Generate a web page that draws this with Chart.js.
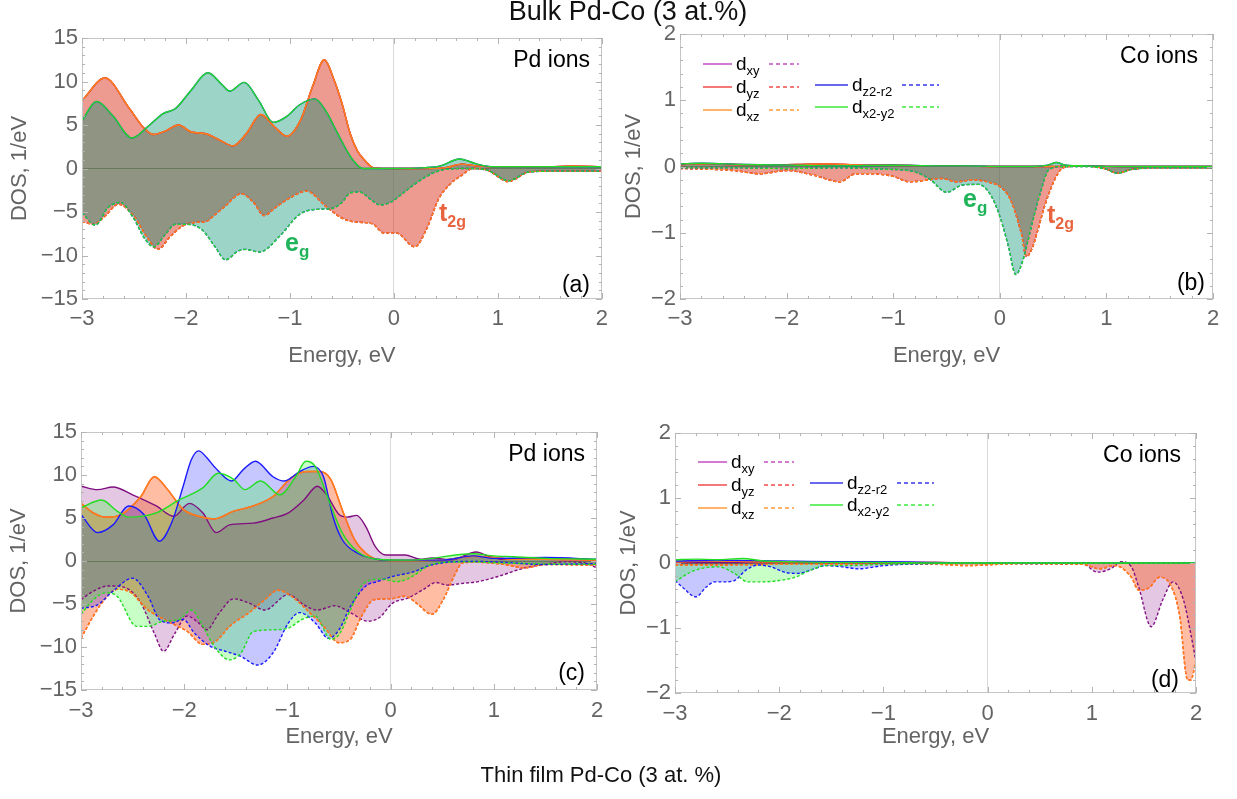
<!DOCTYPE html>
<html>
<head>
<meta charset="utf-8">
<script src="https://cdn.jsdelivr.net/npm/chart.js@4.4.1/dist/chart.umd.min.js"></script>
<style>
  body { margin: 0; background: #fff; font-family: "Liberation Sans", Arial, sans-serif; }
  #lienzo { position: relative; width: 1237px; height: 799px; overflow: hidden; background: #fff; }
  canvas { position: absolute; }
  .txt { position: absolute; white-space: nowrap; line-height: 1; }
  .muestra { position: absolute; height: 2px; }
</style>
</head>
<body>
<div id="lienzo">
  <canvas id="grafA" width="615" height="380" style="left:0px;top:0px"></canvas>
  <canvas id="grafB" width="622" height="380" style="left:615px;top:0px"></canvas>
  <canvas id="grafC" width="615" height="380" style="left:0px;top:400px"></canvas>
  <canvas id="grafD" width="622" height="380" style="left:615px;top:400px"></canvas>
</div>
<script>
// Datos (energia en eV, DOS en 1/eV)

// (a) Bulk, iones Pd: t2g (dxy = dyz = dxz) y eg (dz2 = dx2-y2)
const aT2gUpE = [-3, -2.78, -2.55, -2.4, -2.31, -2.2, -2.07, -1.95, -1.81, -1.68, -1.55, -1.42, -1.28, -1.15, -1.03, -0.9, -0.78, -0.67, -0.57, -0.5, -0.42, -0.35, -0.27, -0.2, 0, 0.3, 0.5, 0.65, 0.8, 1.0, 1.2, 1.5, 1.7, 2]
const aT2gUpD = [7.8, 10.4, 7.0, 4.6, 3.9, 4.3, 5.0, 4.2, 4.0, 3.3, 2.6, 4.0, 6.2, 4.8, 3.7, 5.5, 9.5, 12.5, 10.0, 7.5, 4.0, 2.0, 0.8, 0.1, 0, 0, 0.1, 0.5, 0.3, 0.2, 0.2, 0.2, 0.3, 0.2]
const aEgUpE = [-3, -2.86, -2.7, -2.52, -2.35, -2.22, -2.1, -1.95, -1.79, -1.65, -1.58, -1.44, -1.3, -1.16, -1.03, -0.91, -0.76, -0.65, -0.54, -0.45, -0.39, -0.3, 0, 0.3, 0.45, 0.63, 0.8, 0.95, 1.2, 1.6, 2]
const aEgUpD = [5.5, 7.7, 6.0, 3.5, 5.0, 6.3, 6.9, 9.0, 11.0, 9.6, 8.9, 9.9, 7.8, 5.3, 6.0, 7.3, 8.0, 6.5, 4.0, 2.0, 0.9, 0, 0, 0.1, 0.3, 1.1, 0.5, 0.2, 0.2, 0.2, 0.2]
const aT2gDnE = [-3, -2.89, -2.78, -2.65, -2.5, -2.38, -2.27, -2.15, -2.03, -1.92, -1.81, -1.72, -1.62, -1.47, -1.35, -1.25, -1.14, -1.03, -0.84, -0.65, -0.5, -0.4, -0.3, -0.2, -0.1, 0.02, 0.2, 0.32, 0.43, 0.54, 0.65, 0.76, 0.9, 1.1, 1.3, 1.5, 2]
const aT2gDnD = [-6.1, -6.4, -5.5, -4.1, -5.5, -7.8, -9.3, -7.8, -6.6, -6.2, -6.1, -5.3, -4.3, -2.9, -3.9, -5.4, -4.5, -3.6, -2.6, -4.4, -5.7, -6.1, -6.2, -6.4, -7.4, -7.4, -9.0, -6.8, -3.5, -1.8, -0.8, 0, -0.2, -1.5, -0.4, -0.3, -0.3]
const aEgDnE = [-3, -2.87, -2.75, -2.63, -2.5, -2.4, -2.31, -2.2, -2.1, -2.0, -1.85, -1.72, -1.62, -1.5, -1.43, -1.29, -1.1, -0.91, -0.75, -0.6, -0.5, -0.42, -0.33, -0.22, -0.13, -0.02, 0.08, 0.2, 0.3, 0.4, 0.5, 0.7, 0.9, 1.1, 1.3, 1.6, 2]
const aEgDnD = [-5.1, -6.5, -4.5, -3.9, -5.8, -8.0, -9.0, -7.6, -6.4, -6.4, -7.0, -9.0, -10.5, -9.5, -9.3, -9.6, -7.8, -5.3, -4.7, -4.6, -3.9, -2.8, -2.7, -3.6, -4.2, -3.8, -2.9, -1.8, -1.0, -0.4, -0.1, 0, -0.2, -1.4, -0.4, -0.3, -0.3]

// (b) Bulk, iones Co
const bT2gUpE = [-3, -2.8, -2.5, -2.2, -1.9, -1.6, -1.3, -1.0, -0.7, -0.4, -0.1, 0.2, 0.5, 0.8, 1.1, 1.5, 2]
const bT2gUpD = [0.03, 0.04, 0.03, 0.02, 0.03, 0.04, 0.02, 0.02, 0.01, 0.01, 0, 0, 0, 0.01, 0, 0, 0]
const bEgUpE = [-3, -2.8, -2.4, -2.0, -1.5, -1.0, -0.6, -0.3, 0, 0.3, 0.45, 0.53, 0.62, 0.8, 1.2, 2]
const bEgUpD = [0.04, 0.05, 0.03, 0.02, 0.01, 0.02, 0.01, 0.01, 0, 0, 0.02, 0.06, 0.02, 0.01, 0, 0]
const bT2gDnE = [-3, -2.75, -2.5, -2.25, -2.0, -1.75, -1.5, -1.35, -1.2, -1.0, -0.85, -0.7, -0.55, -0.4, -0.25, -0.1, 0, 0.1, 0.2, 0.25, 0.3, 0.35, 0.42, 0.5, 0.57, 0.65, 0.8, 1.0, 1.1, 1.25, 1.5, 2]
const bT2gDnD = [-0.03, -0.04, -0.06, -0.11, -0.06, -0.13, -0.23, -0.11, -0.11, -0.15, -0.23, -0.21, -0.18, -0.23, -0.2, -0.24, -0.3, -0.5, -1.0, -1.36, -1.25, -1.0, -0.6, -0.25, -0.05, 0, 0.01, -0.04, -0.1, -0.04, -0.02, -0.02]
const bEgDnE = [-3, -2.5, -2.0, -1.5, -1.1, -0.8, -0.65, -0.5, -0.35, -0.2, -0.09, 0, 0.08, 0.15, 0.21, 0.26, 0.32, 0.38, 0.46, 0.6, 0.8, 1.0, 1.1, 1.25, 1.5, 2]
const bEgDnD = [-0.02, -0.02, -0.03, -0.02, -0.04, -0.08, -0.2, -0.39, -0.28, -0.27, -0.42, -0.75, -1.2, -1.63, -1.45, -1.15, -0.75, -0.4, -0.05, 0, 0, -0.04, -0.1, -0.04, -0.02, -0.02]

// (c) Pelicula delgada, iones Pd (dyz = dxz)
const cXyUpE = [-3, -2.84, -2.69, -2.5, -2.27, -2.1, -1.95, -1.82, -1.69, -1.56, -1.33, -1.14, -0.99, -0.84, -0.71, -0.62, -0.5, -0.42, -0.33, -0.24, -0.15, -0.05, 0.14, 0.29, 0.4, 0.59, 0.83, 0.96, 1.1, 1.5, 1.87, 2]
const cXyUpD = [8.7, 8.3, 8.6, 7.7, 6.4, 5.2, 6.7, 5.6, 3.3, 4.2, 4.4, 5.0, 5.6, 7.1, 8.7, 7.7, 5.4, 5.1, 5.3, 4.0, 1.7, 0.7, 0.7, 0.2, 0.35, 0.15, 1.05, 0.5, 0.2, 0.3, 0.25, 0.1]
const cXzUpE = [-3, -2.88, -2.76, -2.61, -2.42, -2.29, -2.16, -2.01, -1.86, -1.71, -1.52, -1.33, -1.14, -0.96, -0.81, -0.69, -0.58, -0.47, -0.35, -0.24, -0.11, 0.2, 0.5, 0.8, 1.0, 1.2, 1.5, 2]
const cXzUpD = [6.7, 5.6, 5.1, 5.4, 7.5, 9.8, 8.3, 6.0, 5.2, 4.9, 5.8, 6.4, 7.5, 9.7, 10.4, 10.4, 9.5, 6.0, 2.5, 0.9, 0.15, 0.05, 0.1, 0.55, 0.4, 0.2, 0.2, 0.1]
const cZ2UpE = [-3, -2.84, -2.69, -2.54, -2.39, -2.24, -2.12, -2.01, -1.93, -1.86, -1.78, -1.71, -1.54, -1.43, -1.31, -1.14, -1.03, -0.88, -0.75, -0.65, -0.56, -0.47, -0.32, -0.13, 0, 0.5, 0.8, 1.0, 1.5, 2]
const cZ2UpD = [5.4, 3.3, 4.2, 6.4, 5.4, 2.3, 4.5, 8.7, 11.8, 12.8, 12.0, 11.0, 9.3, 10.6, 11.6, 9.8, 9.3, 10.4, 11.0, 9.8, 5.2, 2.5, 0.9, 0.2, 0.1, 0.1, 0.6, 0.3, 0.4, 0.2]
const cX2UpE = [-3, -2.8, -2.65, -2.54, -2.27, -2.05, -1.82, -1.67, -1.52, -1.41, -1.26, -1.07, -0.92, -0.82, -0.73, -0.6, -0.47, -0.32, -0.13, 0.2, 0.8, 1.0, 1.2, 1.5, 2]
const cX2UpD = [6.2, 7.1, 5.8, 5.1, 5.6, 7.1, 8.5, 10.2, 9.5, 8.3, 9.3, 7.7, 9.8, 11.6, 11.0, 7.1, 3.3, 1.1, 0.2, 0.1, 0.85, 0.6, 0.5, 0.3, 0.2]
const cXyDnE = [-3, -2.88, -2.73, -2.57, -2.42, -2.29, -2.2, -2.09, -1.97, -1.86, -1.78, -1.67, -1.52, -1.37, -1.22, -0.99, -0.84, -0.71, -0.54, -0.39, -0.22, -0.11, 0.02, 0.17, 0.32, 0.44, 0.55, 0.7, 0.85, 1.04, 1.3, 1.49, 1.68, 1.87, 2]
const cXyDnD = [-4.5, -3.5, -2.9, -3.1, -4.9, -8.4, -10.5, -8.4, -6.4, -7.2, -8.0, -6.2, -4.4, -4.9, -5.7, -3.9, -5.1, -5.7, -5.2, -6.0, -7.0, -6.6, -4.9, -4.3, -3.3, -2.5, -2.8, -2.6, -2.4, -1.8, -0.8, -0.4, -0.1, -0.2, -0.8]
const cXzDnE = [-3, -2.88, -2.76, -2.65, -2.54, -2.35, -2.16, -1.97, -1.82, -1.69, -1.56, -1.37, -1.22, -1.09, -0.96, -0.81, -0.65, -0.5, -0.39, -0.28, -0.16, 0, 0.14, 0.25, 0.4, 0.51, 0.63, 0.7, 0.85, 1.1, 1.3, 1.49, 2]
const cXzDnD = [-9.0, -6.4, -4.3, -3.3, -3.5, -5.7, -7.0, -8.2, -9.7, -9.3, -7.6, -6.0, -4.5, -3.4, -4.1, -5.7, -7.6, -9.5, -9.1, -6.4, -4.5, -4.4, -4.1, -4.9, -6.2, -4.5, -1.4, -0.2, -0.15, -0.4, -0.8, -0.4, -0.5]
const cZ2DnE = [-3, -2.84, -2.69, -2.5, -2.35, -2.24, -2.12, -2.01, -1.9, -1.75, -1.6, -1.45, -1.29, -1.14, -0.99, -0.88, -0.73, -0.6, -0.5, -0.39, -0.24, -0.13, 0.02, 0.21, 0.36, 0.55, 0.81, 1.0, 1.49, 2]
const cZ2DnD = [-5.5, -5.1, -3.5, -2.0, -4.1, -6.8, -7.2, -6.8, -8.4, -9.9, -10.5, -11.1, -12.1, -10.7, -7.2, -6.0, -7.2, -9.0, -8.0, -5.3, -2.9, -2.4, -1.8, -1.3, -0.6, -0.15, -0.05, -0.1, -0.4, -0.3]
const cX2DnE = [-3, -2.88, -2.76, -2.65, -2.46, -2.35, -2.2, -2.05, -1.93, -1.82, -1.71, -1.56, -1.45, -1.33, -1.14, -0.99, -0.86, -0.73, -0.58, -0.49, -0.39, -0.26, -0.09, 0.06, 0.21, 0.36, 0.55, 0.8, 1.0, 1.3, 2]
const cX2DnD = [-6.2, -4.5, -3.7, -4.1, -7.6, -7.6, -7.0, -6.8, -5.7, -7.6, -9.9, -11.5, -10.7, -8.2, -8.0, -7.8, -6.8, -6.4, -9.1, -8.4, -5.7, -2.6, -2.1, -2.4, -1.8, -0.6, -0.15, -0.1, -0.2, -0.3, -0.4]

// (d) Pelicula delgada, iones Co (dyz = dxz)
const dXyUpE = [-3, -2, -1, 0, 1, 2]
const dXyUpD = [0.01, 0.01, 0.01, 0, 0, 0]
const dXzUpE = [-3, -2.6, -2.2, -1.8, -1.4, -1.0, -0.5, 0, 1, 2]
const dXzUpD = [0.02, 0.03, 0.02, 0.02, 0.02, 0.01, 0.01, 0, 0, 0]
const dZ2UpE = [-3, -2.5, -2.0, -1.5, -1.0, -0.5, 0, 2]
const dZ2UpD = [0.03, 0.04, 0.03, 0.02, 0.02, 0.01, 0, 0]
const dX2UpE = [-3, -2.8, -2.6, -2.35, -2.15, -1.9, -1.5, -1.0, -0.5, 0, 1, 2]
const dX2UpD = [0.05, 0.06, 0.05, 0.07, 0.03, 0.02, 0.01, 0.01, 0, 0, 0, 0]
const dXyDnE = [-3, -2.0, -1.0, 0, 0.92, 1.05, 1.18, 1.28, 1.38, 1.45, 1.57, 1.68, 1.78, 1.88, 1.95, 2]
const dXyDnD = [-0.02, -0.02, -0.01, -0.01, -0.02, -0.14, -0.09, 0.02, -0.06, -0.37, -0.98, -0.57, -0.29, -0.57, -1.09, -1.52]
const dXzDnE = [-3, -2.5, -2.0, -1.5, -1.0, -0.5, -0.2, 0.3, 0.92, 1.07, 1.22, 1.38, 1.45, 1.55, 1.65, 1.74, 1.84, 1.92, 1.95, 2]
const dXzDnD = [-0.03, -0.03, -0.02, -0.02, -0.02, -0.02, -0.04, -0.01, -0.02, -0.09, -0.04, -0.22, -0.42, -0.38, -0.22, -0.3, -0.78, -1.8, -1.8, -1.5]
const dZ2DnE = [-3, -2.93, -2.8, -2.7, -2.62, -2.53, -2.43, -2.32, -2.2, -2.08, -1.93, -1.82, -1.7, -1.55, -1.39, -1.24, -1.0, -0.55, 0, 2]
const dZ2DnD = [-0.27, -0.37, -0.52, -0.37, -0.29, -0.29, -0.27, -0.11, -0.03, -0.06, -0.15, -0.16, -0.11, -0.04, -0.06, -0.09, -0.04, -0.01, 0, 0]
const dX2DnE = [-3, -2.85, -2.7, -2.58, -2.43, -2.3, -2.16, -2.0, -1.85, -1.7, -1.55, -1.32, -1.0, 0, 2]
const dX2DnD = [-0.29, -0.14, -0.07, -0.06, -0.16, -0.29, -0.29, -0.27, -0.22, -0.11, -0.04, -0.04, -0.02, 0, 0]

// Orbitales y etiquetas
const orbitales = ['xy', 'yz', 'xz', 'z2-r2', 'x2-y2']
const colorLinea = { 'xy': '#800e80', 'yz': '#ff2a2a', 'xz': '#ff8419', 'z2-r2': '#1a1aff', 'x2-y2': '#22dd22' }
const colorRelleno = { 'xy': 'rgba(128,0,128,0.22)', 'yz': 'rgba(255,0,0,0.2)', 'xz': 'rgba(255,128,0,0.2)', 'z2-r2': 'rgba(0,0,255,0.22)', 'x2-y2': 'rgba(0,255,0,0.22)' }
const colorLeyenda = { 'xy': '#d47ad4', 'yz': '#f47878', 'xz': '#ffb46a', 'z2-r2': '#6868f0', 'x2-y2': '#6cf06c' }

// Curvas por panel: [E arriba, DOS arriba, E abajo, DOS abajo]
const curvasA = {
  'xy': [aT2gUpE, aT2gUpD, aT2gDnE, aT2gDnD],
  'yz': [aT2gUpE, aT2gUpD, aT2gDnE, aT2gDnD],
  'xz': [aT2gUpE, aT2gUpD, aT2gDnE, aT2gDnD],
  'z2-r2': [aEgUpE, aEgUpD, aEgDnE, aEgDnD],
  'x2-y2': [aEgUpE, aEgUpD, aEgDnE, aEgDnD]
}
const curvasB = {
  'xy': [bT2gUpE, bT2gUpD, bT2gDnE, bT2gDnD],
  'yz': [bT2gUpE, bT2gUpD, bT2gDnE, bT2gDnD],
  'xz': [bT2gUpE, bT2gUpD, bT2gDnE, bT2gDnD],
  'z2-r2': [bEgUpE, bEgUpD, bEgDnE, bEgDnD],
  'x2-y2': [bEgUpE, bEgUpD, bEgDnE, bEgDnD]
}
const curvasC = {
  'xy': [cXyUpE, cXyUpD, cXyDnE, cXyDnD],
  'yz': [cXzUpE, cXzUpD, cXzDnE, cXzDnD],
  'xz': [cXzUpE, cXzUpD, cXzDnE, cXzDnD],
  'z2-r2': [cZ2UpE, cZ2UpD, cZ2DnE, cZ2DnD],
  'x2-y2': [cX2UpE, cX2UpD, cX2DnE, cX2DnD]
}
const curvasD = {
  'xy': [dXyUpE, dXyUpD, dXyDnE, dXyDnD],
  'yz': [dXzUpE, dXzUpD, dXzDnE, dXzDnD],
  'xz': [dXzUpE, dXzUpD, dXzDnE, dXzDnD],
  'z2-r2': [dZ2UpE, dZ2UpD, dZ2DnE, dZ2DnD],
  'x2-y2': [dX2UpE, dX2UpD, dX2DnE, dX2DnD]
}

const fuente = '"Liberation Sans", Arial, sans-serif'
const gris = '#646464'

// Marco tipo Mathematica con marcas hacia adentro
const marco = {
  id: 'marco',
  afterDatasetsDraw(chart, args, opts) {
    const { ctx, chartArea: a, scales } = chart
    const x = scales.x
    const y = scales.y
    ctx.save()
    ctx.strokeStyle = '#c6c6c6'
    ctx.lineWidth = 1
    ctx.strokeRect(Math.round(a.left) + 0.5, Math.round(a.top) + 0.5, Math.round(a.width) - 1, Math.round(a.height) - 1)
    ctx.strokeStyle = '#b4b4b4'
    ctx.beginPath()
    const nx = Math.round((x.max - x.min) / opts.xMenor)
    for (let i = 0; i <= nx; i++) {
      const v = x.min + i * opts.xMenor
      const mayor = Math.abs(v / opts.xMayor - Math.round(v / opts.xMayor)) < 1e-6
      const l = mayor ? 6 : 3
      const p = Math.round(x.getPixelForValue(v)) + 0.5
      ctx.moveTo(p, a.bottom); ctx.lineTo(p, a.bottom - l)
      ctx.moveTo(p, a.top); ctx.lineTo(p, a.top + l)
    }
    const ny = Math.round((y.max - y.min) / opts.yMenor)
    for (let i = 0; i <= ny; i++) {
      const v = y.min + i * opts.yMenor
      const mayor = Math.abs(v / opts.yMayor - Math.round(v / opts.yMayor)) < 1e-6
      const l = mayor ? 6 : 3
      const p = Math.round(y.getPixelForValue(v)) + 0.5
      ctx.moveTo(a.left, p); ctx.lineTo(a.left + l, p)
      ctx.moveTo(a.right, p); ctx.lineTo(a.right - l, p)
    }
    ctx.stroke()
    ctx.restore()
  }
}

function serie(e, d, orb, abajo) {
  return {
    data: e.map((x, i) => ({ x: x, y: d[i] })),
    borderColor: colorLinea[orb],
    backgroundColor: colorRelleno[orb],
    borderWidth: 1.4,
    borderDash: abajo ? [3, 2] : [],
    fill: 'origin',
    pointRadius: 0,
    cubicInterpolationMode: 'monotone'
  }
}

function crearPanel(id, curvas, yMax, yMayor, yMenor, caja) {
  const datasets = []
  // el primero queda arriba: dx2-y2 encima, dxy debajo
  orbitales.slice().reverse().forEach((orb) => {
    const c = curvas[orb]
    datasets.push(serie(c[0], c[1], orb, false))
    datasets.push(serie(c[2], c[3], orb, true))
  })

  const ctx = document.getElementById(id).getContext('2d')
  return new Chart(ctx, {
    type: 'line',
    data: { datasets: datasets },
    options: {
      responsive: false,
      animation: false,
      devicePixelRatio: 1,
      layout: { padding: { left: 0, top: caja.arriba, right: caja.der, bottom: 0 } },
      plugins: {
        legend: { display: false },
        tooltip: { enabled: false },
        filler: { drawTime: 'beforeDatasetsDraw' },
        marco: { xMayor: 1, xMenor: 0.2, yMayor: yMayor, yMenor: yMenor }
      },
      scales: {
        x: {
          type: 'linear',
          min: -3,
          max: 2,
          afterFit: (s) => { s.height = caja.altoX },
          ticks: {
            stepSize: 1,
            color: gris,
            padding: caja.padTickX,
            font: { family: fuente, size: 22 },
            callback: (v) => v < 0 ? '\u2212' + Math.abs(v) : String(v)
          },
          grid: {
            drawTicks: false,
            color: (c) => c.tick && c.tick.value === 0 ? '#dadada' : 'rgba(0,0,0,0)'
          },
          border: { display: false },
          title: {
            display: true,
            text: 'Energy, eV',
            color: gris,
            font: { family: fuente, size: 22 },
            padding: { top: 0, bottom: caja.padTitX }
          }
        },
        y: {
          min: -yMax,
          max: yMax,
          afterFit: (s) => { s.width = caja.anchoY },
          ticks: {
            stepSize: yMayor,
            color: gris,
            padding: 4,
            font: { family: fuente, size: 22 },
            callback: (v) => v < 0 ? '\u2212' + Math.abs(v) : String(v)
          },
          grid: {
            drawTicks: false,
            color: (c) => c.tick && c.tick.value === 0 ? 'rgba(80,125,80,0.75)' : 'rgba(0,0,0,0)'
          },
          border: { display: false },
          title: {
            display: true,
            text: 'DOS, 1/eV',
            color: gris,
            font: { family: fuente, size: 22 },
            padding: { top: caja.padTitY, bottom: 0 }
          }
        }
      }
    },
    plugins: [marco]
  })
}

crearPanel('grafA', curvasA, 15, 5, 1, { anchoY: 82, arriba: 38, der: 12, altoX: 81, padTickX: 7, padTitX: 10.8, padTitY: 7 })
crearPanel('grafB', curvasB, 2, 1, 0.2, { anchoY: 65, arriba: 34, der: 24, altoX: 81, padTickX: 7, padTitX: 10.8, padTitY: 6 })
crearPanel('grafC', curvasC, 15, 5, 1, { anchoY: 81, arriba: 32, der: 18, altoX: 90, padTickX: 8, padTitX: 29.8, padTitY: 6 })
crearPanel('grafD', curvasD, 2, 1, 0.2, { anchoY: 60, arriba: 33, der: 41, altoX: 87, padTickX: 8, padTitX: 29.8, padTitY: 1 })

// Textos superpuestos (posicion por linea base)
const lienzo = document.getElementById('lienzo')

function texto(html, x, base, size, alin, estilo) {
  const el = document.createElement('div')
  el.className = 'txt'
  el.innerHTML = html
  el.style.fontSize = size + 'px'
  el.style.left = x + 'px'
  el.style.top = (base - 0.8465 * size) + 'px'
  if (alin === 'right') el.style.transform = 'translateX(-100%)'
  if (alin === 'center') el.style.transform = 'translateX(-50%)'
  if (estilo) el.style.cssText += estilo
  lienzo.appendChild(el)
}

texto('Bulk Pd-Co (3 at.%)', 628, 21, 27, 'center', 'color:#111')
texto('Thin film Pd-Co (3 at. %)', 601, 783, 22, 'center', 'color:#111')

texto('Pd ions', 590, 67, 23, 'right', 'color:#000')
texto('Co ions', 1198, 63, 23, 'right', 'color:#000')
texto('Pd ions', 585, 461, 23, 'right', 'color:#000')
texto('Co ions', 1181, 462, 23, 'right', 'color:#000')
texto('(a)', 590, 292, 23, 'right', 'color:#000')
texto('(b)', 1205, 290, 23, 'right', 'color:#000')
texto('(c)', 585, 680, 23, 'right', 'color:#000')
texto('(d)', 1179, 687, 23, 'right', 'color:#000')

const subT = '<span style="font-size:16px;position:relative;top:6px">2g</span>'
const subE = '<span style="font-size:17px;position:relative;top:6px">g</span>'
texto('t' + subT, 439, 221, 25, 'left', 'color:#e8643f;font-weight:bold')
texto('e' + subE, 285, 251, 25, 'left', 'color:#1fb45a;font-weight:bold')
texto('e' + subE, 963, 207, 25, 'left', 'color:#1fb45a;font-weight:bold')
texto('t' + subT, 1047, 223, 25, 'left', 'color:#e8643f;font-weight:bold')

// Leyendas de (b) y (d)
function muestra(x1, x2, y, color, punteada) {
  const el = document.createElement('div')
  el.className = 'muestra'
  el.style.left = x1 + 'px'
  el.style.top = (y - 1) + 'px'
  el.style.width = (x2 - x1) + 'px'
  el.style.background = punteada
    ? 'repeating-linear-gradient(90deg, ' + color + ' 0px, ' + color + ' 4px, transparent 4px, transparent 7px)'
    : color
  lienzo.appendChild(el)
}

function leyenda(x0, y0) {
  const filas = [
    { orb: 'xy', col: 0, dy: 0 },
    { orb: 'yz', col: 0, dy: 23 },
    { orb: 'xz', col: 0, dy: 46 },
    { orb: 'z2-r2', col: 1, dy: 21 },
    { orb: 'x2-y2', col: 1, dy: 43 }
  ]
  filas.forEach((f) => {
    const y = y0 + f.dy
    const c = colorLeyenda[f.orb]
    const sub = '<span style="font-size:13px;position:relative;top:5px">' + f.orb + '</span>'
    if (f.col === 0) {
      muestra(x0, x0 + 29, y, c, false)
      texto('d' + sub, x0 + 33, y + 6, 19, 'left', 'color:#000')
      muestra(x0 + 66, x0 + 96, y, c, true)
    } else {
      muestra(x0 + 112, x0 + 145, y, c, false)
      texto('d' + sub, x0 + 149, y + 6, 19, 'left', 'color:#000')
      muestra(x0 + 199, x0 + 236, y, c, true)
    }
  })
}

leyenda(703, 64)
leyenda(698, 462)
</script>
</body>
</html>
